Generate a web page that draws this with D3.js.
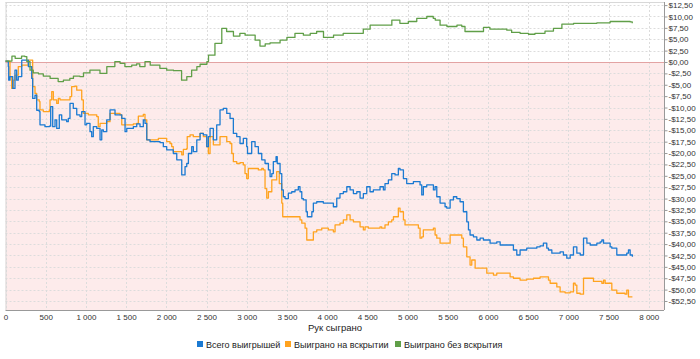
<!DOCTYPE html>
<html><head><meta charset="utf-8">
<script src="https://cdn.jsdelivr.net/npm/d3@7/dist/d3.min.js"></script>
<style>
html,body{margin:0;padding:0;background:#fff;}
svg{display:block;font-family:"Liberation Sans","DejaVu Sans",sans-serif;}
</style></head>
<body>
<svg id="chart" width="700" height="359"></svg>
<script>
const seriesNames = ["Всего выигрышей", "Выиграно на вскрытии", "Выиграно без вскрытия"];
const seriesColors = ["#1b7ad2", "#ffa31f", "#609f48"];
const xTicks = [0,500,1000,1500,2000,2500,3000,3500,4000,4500,5000,5500,6000,6500,7000,7500,8000];
const yTicks = [12.5,10,7.5,5,2.5,0,-2.5,-5,-7.5,-10,-12.5,-15,-17.5,-20,-22.5,-25,-27.5,-30,-32.5,-35,-37.5,-40,-42.5,-45,-47.5,-50,-52.5];
const xTitle = "Рук сыграно";

const totalWon = [[0,0.2],[35,-1.0],[40,-4.0],[56,-3.2],[90,-5.8],[118,-1.8],[139,-4.0],[159,-3.2],[202,0.4],[243,0.4],[284,-1.0],[326,-3.6],[338,-8.0],[367,-7.3],[388,-10.6],[420,-10.9],[429,-13.8],[491,-14.2],[545,-14.1],[562,-9.8],[587,-14.2],[616,-12.7],[637,-14.6],[669,-11.6],[699,-12.7],[761,-13.1],[781,-12.4],[802,-9.1],[843,-10.2],[886,-11.6],[927,-12.0],[948,-10.9],[989,-13.8],[1010,-13.5],[1051,-15.3],[1072,-16.4],[1092,-14.2],[1135,-14.6],[1176,-17.1],[1197,-14.9],[1217,-15.3],[1259,-12.7],[1300,-10.5],[1362,-11.6],[1403,-11.6],[1446,-12.4],[1487,-15.3],[1508,-14.6],[1590,-14.2],[1632,-13.6],[1673,-14.2],[1714,-12.7],[1735,-13.5],[1757,-17.1],[1798,-17.5],[1881,-17.5],[1922,-17.7],[1963,-18.6],[2005,-19.3],[2087,-20.1],[2130,-21.5],[2192,-24.8],[2233,-23.0],[2254,-22.3],[2275,-20.1],[2316,-18.6],[2336,-19.7],[2379,-17.1],[2420,-15.7],[2461,-16.0],[2503,-18.6],[2523,-16.4],[2544,-14.6],[2585,-17.1],[2627,-13.8],[2668,-10.5],[2709,-10.2],[2752,-11.3],[2793,-12.4],[2834,-15.7],[2876,-16.4],[2917,-17.9],[2958,-16.8],[3000,-18.6],[3010,-20.1],[3062,-17.5],[3104,-18.6],[3145,-20.1],[3187,-21.5],[3228,-22.3],[3270,-23.7],[3291,-25.2],[3312,-24.5],[3331,-21.9],[3365,-20.8],[3380,-22.3],[3415,-24.5],[3436,-28.1],[3456,-29.6],[3477,-30.0],[3518,-28.8],[3560,-28.5],[3601,-28.1],[3642,-27.4],[3663,-28.5],[3685,-30.0],[3705,-30.3],[3739,-32.9],[3754,-34.0],[3810,-32.9],[3829,-31.0],[3871,-30.7],[3953,-31.0],[4015,-31.0],[4078,-31.8],[4120,-29.9],[4160,-28.9],[4202,-28.5],[4245,-27.4],[4286,-28.1],[4327,-28.9],[4369,-28.5],[4410,-29.9],[4451,-28.9],[4493,-27.4],[4534,-28.5],[4575,-28.1],[4658,-27.4],[4700,-28.1],[4720,-26.7],[4762,-25.9],[4804,-24.5],[4845,-24.8],[4886,-23.4],[4907,-23.7],[4949,-25.6],[4990,-26.7],[5073,-26.3],[5115,-26.3],[5156,-27.0],[5177,-29.2],[5197,-27.4],[5239,-27.0],[5280,-27.0],[5322,-28.1],[5343,-27.4],[5364,-29.6],[5405,-31.0],[5467,-31.8],[5488,-32.1],[5530,-30.3],[5571,-29.6],[5613,-30.0],[5654,-30.7],[5695,-32.9],[5737,-35.1],[5758,-36.9],[5778,-38.0],[5820,-38.4],[5862,-39.1],[5903,-38.7],[5944,-39.1],[5986,-39.1],[6027,-39.8],[6110,-39.5],[6152,-40.2],[6235,-40.2],[6317,-41.3],[6359,-42.4],[6400,-41.3],[6483,-40.9],[6566,-40.9],[6608,-40.6],[6649,-40.4],[6690,-39.8],[6732,-40.9],[6753,-41.3],[6795,-42.0],[6857,-42.0],[6898,-41.7],[6939,-42.4],[6981,-43.1],[7023,-42.4],[7064,-40.6],[7106,-42.0],[7148,-42.4],[7189,-38.7],[7231,-39.8],[7272,-40.2],[7355,-39.8],[7396,-39.5],[7417,-39.1],[7438,-39.8],[7520,-40.6],[7541,-40.9],[7603,-42.4],[7686,-42.4],[7727,-42.0],[7748,-41.3],[7769,-42.4],[7797,-42.8]];

const showdownWon = [[0,0.2],[56,-3.2],[77,-5.8],[97,-4.0],[118,-2.9],[159,-1.0],[202,-0.7],[264,-0.7],[284,0.4],[326,0.4],[338,-5.4],[367,-6.9],[388,-8.3],[420,-8.7],[429,-10.5],[470,-10.9],[545,-10.5],[554,-8.3],[575,-6.5],[595,-8.3],[637,-9.1],[657,-8.0],[678,-8.3],[761,-8.3],[802,-7.6],[823,-5.4],[865,-5.3],[886,-6.2],[948,-8.3],[968,-11.3],[1030,-11.6],[1135,-12.0],[1154,-14.2],[1176,-13.5],[1217,-13.5],[1259,-13.1],[1300,-11.3],[1425,-11.6],[1446,-13.8],[1508,-13.8],[1590,-13.6],[1632,-13.5],[1652,-11.9],[1714,-11.5],[1735,-12.7],[1757,-17.1],[1839,-17.1],[1901,-16.8],[1963,-16.8],[2005,-17.5],[2046,-17.9],[2067,-18.6],[2087,-19.7],[2171,-19.7],[2192,-20.4],[2212,-19.2],[2254,-19.0],[2260,-16.4],[2295,-16.0],[2336,-16.4],[2420,-15.7],[2461,-16.4],[2503,-18.6],[2523,-20.1],[2544,-16.4],[2585,-18.2],[2668,-16.4],[2752,-17.5],[2793,-17.9],[2814,-20.1],[2834,-21.9],[2876,-22.3],[2917,-22.1],[2958,-22.6],[2979,-24.5],[3000,-25.6],[3020,-23.4],[3062,-23.4],[3104,-23.4],[3145,-23.7],[3187,-23.4],[3207,-23.7],[3228,-27.8],[3249,-29.9],[3270,-28.5],[3312,-25.9],[3353,-25.9],[3373,-24.1],[3405,-26.7],[3436,-31.0],[3448,-34.0],[3539,-34.0],[3622,-34.0],[3663,-34.7],[3685,-35.4],[3726,-36.5],[3747,-39.1],[3810,-39.1],[3829,-37.3],[3871,-36.9],[3933,-36.5],[3974,-36.5],[4015,-36.9],[4078,-37.3],[4099,-35.8],[4160,-35.4],[4202,-34.7],[4245,-33.6],[4286,-34.7],[4327,-35.1],[4410,-36.2],[4451,-36.9],[4472,-36.2],[4513,-36.5],[4575,-36.5],[4617,-36.5],[4658,-36.2],[4679,-36.5],[4720,-35.8],[4762,-35.1],[4804,-34.7],[4825,-34.0],[4886,-32.1],[4907,-32.9],[4949,-34.7],[4969,-35.8],[5031,-35.8],[5115,-35.8],[5135,-36.5],[5156,-38.7],[5177,-38.4],[5197,-36.9],[5280,-36.9],[5322,-36.5],[5343,-38.0],[5364,-38.7],[5405,-39.8],[5488,-39.8],[5530,-38.0],[5654,-38.0],[5675,-38.7],[5695,-40.6],[5737,-42.8],[5778,-44.6],[5799,-43.5],[5841,-45.3],[5903,-45.3],[5986,-46.4],[6069,-46.8],[6110,-46.4],[6235,-46.4],[6276,-47.2],[6317,-47.5],[6400,-47.9],[6483,-47.7],[6566,-47.5],[6649,-47.2],[6732,-47.2],[6753,-47.9],[6774,-48.6],[6857,-49.4],[6898,-50.5],[6960,-50.7],[7023,-50.5],[7064,-48.6],[7085,-49.0],[7106,-50.8],[7148,-51.0],[7189,-47.5],[7231,-47.5],[7313,-48.2],[7396,-48.2],[7417,-48.6],[7438,-47.9],[7458,-48.6],[7541,-50.1],[7603,-50.8],[7706,-51.0],[7727,-50.1],[7748,-51.6],[7797,-51.6]];

const nonShowdownWon = [[0,0.2],[80,1.3],[120,0.8],[200,1.3],[240,1.2],[265,0.1],[305,-1.8],[345,-2.4],[410,-2.6],[470,-3.1],[555,-3.6],[655,-4.3],[720,-4.0],[800,-3.6],[845,-3.1],[925,-3.2],[970,-2.4],[1050,-1.8],[1175,-2.5],[1260,-1.0],[1360,0.1],[1425,-0.3],[1485,-1.0],[1570,-0.7],[1630,-0.4],[1670,-1.0],[1735,0.1],[1800,-0.7],[1920,-1.4],[2005,-1.8],[2090,-1.9],[2190,-4.0],[2255,-3.2],[2315,-1.8],[2380,-1.0],[2420,-0.5],[2505,0.1],[2525,1.5],[2605,4.1],[2630,4.1],[2690,7.4],[2750,6.7],[2835,5.7],[2915,6.3],[2980,5.9],[3105,4.8],[3165,3.5],[3230,4.0],[3290,4.2],[3415,4.8],[3500,5.4],[3600,6.3],[3705,5.9],[3790,6.3],[3870,6.7],[3955,5.4],[4080,5.9],[4200,6.3],[4325,6.3],[4450,7.2],[4535,8.1],[4660,8.1],[4805,9.2],[4905,8.5],[5010,8.9],[5115,9.6],[5240,10.0],[5320,9.6],[5345,9.2],[5405,8.1],[5490,7.8],[5615,8.1],[5675,7.8],[5715,6.7],[5925,6.7],[5945,7.6],[6025,7.2],[6235,7.0],[6295,6.5],[6400,6.3],[6505,6.1],[6585,6.3],[6710,6.8],[6815,7.4],[6920,8.3],[7065,8.5],[7230,8.5],[7355,8.6],[7520,8.9],[7685,8.9],[7770,8.8],[7795,8.5]];

const seriesData = [totalWon, showdownWon, nonShowdownWon];

const svg = d3.select("#chart");
const L = 5.5, R = 664, T = 2, B = 310;
const x = d3.scaleLinear().domain([0, 8190]).range([L, R]);
const y = d3.scaleLinear().domain([-54.48, 13.18]).range([B, T]);

svg.append("rect").attr("x", L).attr("y", y(0)).attr("width", R - L).attr("height", B - y(0)).attr("fill", "#fdebeb");

const grid = svg.append("g").attr("stroke", "#dcdcdc").attr("stroke-width", 1).attr("stroke-dasharray", "2,2");
yTicks.forEach(v => {
  grid.append("line").attr("x1", L).attr("x2", R).attr("y1", Math.round(y(v)) + 0.5).attr("y2", Math.round(y(v)) + 0.5);
});
xTicks.forEach(v => {
  grid.append("line").attr("x1", Math.round(x(v)) + 0.5).attr("x2", Math.round(x(v)) + 0.5).attr("y1", T).attr("y2", B);
});
svg.append("line").attr("x1", L).attr("x2", R).attr("y1", T + 0.5).attr("y2", T + 0.5).attr("stroke", "#d8d8d8");
svg.append("line").attr("x1", L + 0.5).attr("x2", L + 0.5).attr("y1", T).attr("y2", B).attr("stroke", "#d8d8d8");
svg.append("line").attr("x1", L).attr("x2", R).attr("y1", Math.round(y(0)) + 0.5).attr("y2", Math.round(y(0)) + 0.5).attr("stroke", "#e3a3a3").attr("stroke-width", 1);

const fmtMoney = v => (v < 0 ? "-" : "") + "$" + Math.abs(v).toFixed(2).replace(".", ",");
const fmtHands = v => d3.format(",")(v).replace(/,/g, " ");

const yAxis = d3.axisRight(y).tickValues(yTicks).tickFormat(fmtMoney).tickSize(3).tickPadding(1);
const gy = svg.append("g").attr("transform", `translate(${R + 0.5},0)`).call(yAxis);
gy.select(".domain").attr("stroke", "#999").attr("d", `M0,${T}V${B}`);
gy.selectAll(".tick line").attr("stroke", "#999");
gy.selectAll("text").attr("fill", "#333").style("font-size", "8px").attr("font-family", "Liberation Sans, sans-serif");

const xAxis = d3.axisBottom(x).tickValues(xTicks).tickFormat(fmtHands).tickSize(0).tickPadding(4);
const gx = svg.append("g").attr("transform", `translate(0,${B + 0.5})`).call(xAxis);
gx.select(".domain").attr("stroke", "#999").attr("d", `M${L},0H${R}`);
gx.selectAll("text").attr("fill", "#333").style("font-size", "8px").attr("font-family", "Liberation Sans, sans-serif");

svg.append("text").attr("x", 335).attr("y", 331).attr("text-anchor", "middle").attr("fill", "#222").style("font-size", "9.5px").attr("font-family", "Liberation Sans, sans-serif").text(xTitle);

const line = d3.line().x(d => x(d[0])).y(d => y(d[1])).curve(d3.curveStepAfter);
[1, 0, 2].forEach(i => {
  svg.append("path").datum(seriesData[i]).attr("fill", "none").attr("stroke", seriesColors[i]).attr("stroke-width", 1.3).attr("stroke-linejoin", "round").attr("d", line);
});

const legendX = [197, 285, 395];
const lg = svg.append("g").attr("font-family", "Liberation Sans, sans-serif");
seriesNames.forEach((n, i) => {
  lg.append("rect").attr("x", legendX[i]).attr("y", 341).attr("width", 6).attr("height", 6).attr("fill", seriesColors[i]);
  lg.append("text").attr("x", legendX[i] + 9).attr("y", 347.5).attr("fill", "#222").style("font-size", "9px").text(n);
});
</script>
</body></html>
